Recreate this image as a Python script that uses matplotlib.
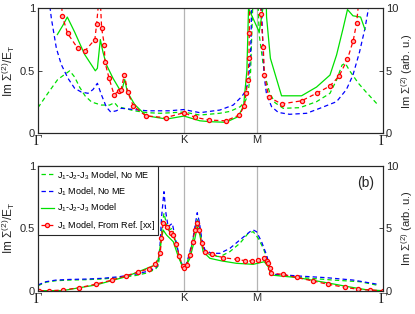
import matplotlib
matplotlib.use("Agg")
import matplotlib.pyplot as plt
import matplotlib.transforms as mtransforms
import numpy as np

plt.rcParams['font.family'] = ['Liberation Sans', 'DejaVu Sans']
plt.rcParams['mathtext.fontset'] = 'custom'
plt.rcParams['mathtext.rm'] = 'Liberation Sans'
plt.rcParams['mathtext.it'] = 'Liberation Sans'

# path coordinates: Gamma - K - M - Gamma (hexagonal BZ)
q_K = 4.0 / 3.0
q_M = 2.0
q_G2 = 2.0 + 2.0 / np.sqrt(3.0)
tick_pos = [0.0, q_K, q_M, q_G2]
tick_labels = ['\u0393', 'K', 'M', '\u0393']

# ---------------- top panel (a) ----------------
a_jjj_nome_q = [0, 0.09, 0.18, 0.29, 0.335, 0.38, 0.43, 0.49, 0.58, 0.655, 0.70, 0.73, 0.79, 0.88, 1.0, 1.12,
                1.333, 1.48, 1.66, 1.755, 1.85, 1.90, 1.923, 1.944, 1.955, 1.975, 2.0, 2.014, 2.023, 2.06, 2.09,
                2.12, 2.166, 2.242, 2.395, 2.547, 2.67, 2.73, 2.78, 2.81, 2.85, 2.93, 3.0, 3.11]
a_jjj_nome_v = [0.205, 0.32, 0.43, 0.50, 0.45, 0.37, 0.30, 0.25, 0.226, 0.226, 0.245, 0.213, 0.20, 0.18, 0.165, 0.16,
                0.17, 0.146, 0.16, 0.175, 0.213, 0.266, 0.333, 0.493, 0.80, 1.3, 1.3, 1.0, 0.786, 0.546, 0.413,
                0.32, 0.246, 0.20, 0.205, 0.253, 0.32, 0.426, 0.546, 0.56, 0.50, 0.40, 0.33, 0.226]

a_j1_nome_q = [0.09, 0.107, 0.122, 0.168, 0.213, 0.274, 0.335, 0.396, 0.457, 0.503, 0.543, 0.579, 0.625, 0.665,
               0.716, 0.762, 0.88, 1.0, 1.2, 1.333, 1.48, 1.664, 1.785, 1.862, 1.892, 1.923, 1.944, 1.95, 1.958,
               2.03, 2.045, 2.054, 2.066, 2.09, 2.136, 2.197, 2.30, 2.456, 2.577, 2.73, 2.82, 2.88, 2.94, 2.99,
               3.02, 3.04]
a_j1_nome_v = [1.3, 1.03, 0.92, 0.68, 0.55, 0.44, 0.36, 0.33, 0.32, 0.35, 0.40, 0.31, 0.21, 0.17,
               0.18, 0.20, 0.19, 0.18, 0.18, 0.19, 0.165, 0.186, 0.226, 0.293, 0.33, 0.413, 0.626, 0.866, 1.3,
               1.3, 1.0, 0.76, 0.47, 0.31, 0.213, 0.167, 0.152, 0.16, 0.20, 0.253, 0.35, 0.466, 0.65, 0.84,
               0.99, 1.3]

a_jjj_q = [0.177, 0.229, 0.268, 0.335, 0.427, 0.524, 0.543, 0.570, 0.594, 0.625, 0.686, 0.747, 0.762, 0.793,
           0.817, 0.884, 0.99, 1.176, 1.335, 1.48, 1.57, 1.718, 1.83, 1.88, 1.91, 1.925, 2.023, 2.065, 2.08,
           2.09, 2.125, 2.227, 2.41, 2.547, 2.67, 2.73, 2.79, 2.83, 2.88, 2.95, 2.99]
a_jjj_v = [0.79, 0.866, 0.93, 0.81, 0.63, 0.50, 0.52, 0.75, 0.65, 0.55, 0.44, 0.35, 0.33, 0.43,
           0.33, 0.23, 0.14, 0.114, 0.138, 0.10, 0.093, 0.088, 0.133, 0.22, 0.50, 1.0, 0.81, 1.05, 1.3,
           0.93, 0.60, 0.30, 0.30, 0.37, 0.466, 0.626, 0.84, 0.99, 0.94, 0.93, 0.83]

a_j1_ref_q = [0.205, 0.222, 0.27, 0.363, 0.43, 0.52, 0.536, 0.565, 0.582, 0.606, 0.612, 0.65, 0.695, 0.743,
              0.76, 0.79, 0.82, 0.871, 0.984, 1.167, 1.335, 1.435, 1.566, 1.718, 1.84, 1.888, 1.902, 1.92,
              1.929, 1.932, 1.94, 2.03, 2.038, 2.06, 2.07, 2.11, 2.227, 2.41, 2.547, 2.669, 2.754, 2.83,
              2.882, 2.913, 2.95]
a_j1_ref_v = [1.2, 0.94, 0.80, 0.68, 0.66, 0.75, 0.874, 1.15, 0.84, 0.71, 0.57, 0.44, 0.31, 0.34,
              0.35, 0.47, 0.33, 0.22, 0.14, 0.125, 0.165, 0.128, 0.106, 0.10, 0.146, 0.22, 0.32, 0.43,
              0.60, 0.80, 1.3, 1.3, 0.954, 0.69, 0.47, 0.29, 0.235, 0.26, 0.32, 0.378, 0.458, 0.594,
              0.74, 0.88, 1.2]

# ---------------- bottom panel (b) ----------------
b_j1_nome_q = [0, 0.073, 0.165, 0.287, 0.439, 0.591, 0.743, 0.896, 0.987, 1.072, 1.095, 1.115, 1.13, 1.152,
               1.17, 1.19, 1.228, 1.253, 1.283, 1.313, 1.335, 1.359, 1.389, 1.42, 1.44, 1.456, 1.475, 1.496,
               1.526, 1.587, 1.664, 1.755, 1.846, 1.938, 1.968, 1.998, 2.044, 2.09, 2.114, 2.126, 2.165,
               2.27, 2.395, 2.64, 2.882, 3.095]
b_j1_nome_v = [0.046, 0.072, 0.085, 0.09, 0.093, 0.099, 0.112, 0.133, 0.152, 0.179, 0.205, 0.352, 0.592, 0.792,
               0.619, 0.512, 0.539, 0.433, 0.312, 0.219, 0.187, 0.219, 0.312, 0.433, 0.539, 0.624, 0.552, 0.419,
               0.326, 0.299, 0.299, 0.339, 0.406, 0.472, 0.486, 0.472, 0.392, 0.286, 0.206, 0.139, 0.131,
               0.125, 0.117, 0.104, 0.085, 0.053]

b_jjj_nome_q = [0, 0.073, 0.165, 0.287, 0.439, 0.591, 0.743, 0.896, 0.987, 1.072, 1.10, 1.12, 1.135, 1.152,
                1.17, 1.19, 1.228, 1.253, 1.283, 1.313, 1.335, 1.359, 1.389, 1.42, 1.44, 1.456, 1.475, 1.496,
                1.526, 1.587, 1.664, 1.755, 1.846, 1.922, 1.968, 2.014, 2.06, 2.105, 2.126, 2.165, 2.27,
                2.395, 2.7, 2.944, 3.095]
b_jjj_nome_v = [0.04, 0.068, 0.08, 0.085, 0.088, 0.094, 0.105, 0.122, 0.14, 0.17, 0.20, 0.34, 0.52, 0.62,
                0.55, 0.48, 0.50, 0.41, 0.30, 0.21, 0.18, 0.21, 0.30, 0.42, 0.51, 0.57, 0.52, 0.40,
                0.31, 0.28, 0.272, 0.313, 0.379, 0.459, 0.472, 0.419, 0.339, 0.232, 0.139, 0.127, 0.12,
                0.106, 0.085, 0.072, 0.045]

b_jjj_q = [0, 0.226, 0.53, 0.805, 1.072, 1.10, 1.125, 1.145, 1.176, 1.237, 1.283, 1.335, 1.389, 1.435, 1.456,
           1.48, 1.51, 1.572, 1.68, 1.816, 1.968, 2.069, 2.105, 2.135, 2.379, 2.6, 2.85, 3.0, q_G2]
b_jjj_v = [0.0, 0.001, 0.046, 0.112, 0.206, 0.25, 0.40, 0.485, 0.445, 0.392, 0.272, 0.166, 0.259, 0.419, 0.512,
           0.445, 0.312, 0.259, 0.238, 0.219, 0.211, 0.232, 0.192, 0.125, 0.104, 0.07, 0.03, 0.008, 0.0]

b_j1_ref_q = [0.012, 0.104, 0.226, 0.378, 0.53, 0.677, 0.805, 0.91, 1.011, 1.072, 1.118, 1.128, 1.145, 1.176,
              1.213, 1.237, 1.261, 1.292, 1.322, 1.335, 1.359, 1.389, 1.413, 1.435, 1.456, 1.475, 1.496,
              1.526, 1.587, 1.694, 1.816, 1.892, 1.953, 2.014, 2.069, 2.09, 2.105, 2.12, 2.135, 2.24,
              2.364, 2.517, 2.654, 2.806, 2.928, 3.035, q_G2]
b_j1_ref_v = [0.0, 0.0, 0.005, 0.024, 0.053, 0.085, 0.12, 0.147, 0.175, 0.211, 0.30, 0.42, 0.544, 0.512,
              0.459, 0.445, 0.374, 0.277, 0.197, 0.179, 0.205, 0.285, 0.392, 0.485, 0.544, 0.485, 0.379,
              0.312, 0.293, 0.264, 0.251, 0.24, 0.237, 0.245, 0.259, 0.24, 0.219, 0.179, 0.139, 0.131,
              0.106, 0.077, 0.051, 0.027, 0.011, 0.005, 0.0]

labels = ['J$_1$-J$_2$-J$_3$ Model, No ME', 'J$_1$ Model, No ME',
          'J$_1$-J$_2$-J$_3$ Model', 'J$_1$ Model, From Ref. [xx]']

GREEN = '#00e000'
BLUE = '#0000ff'
RED = '#ff0000'
AXC = '#262626'

fig = plt.figure(figsize=(4.15, 3.14), dpi=100)
ax_top = fig.add_axes([38 / 415, 1 - 133.3 / 314, 345 / 415, 125 / 314])
ax_bot = fig.add_axes([38 / 415, 1 - 290.7 / 314, 345 / 415, 125 / 314])

def style(ax):
    ax.set_xlim(0, q_G2)
    ax.set_ylim(0, 1)
    for x in (q_K, q_M):
        ax.axvline(x, color='#b4b4b4', lw=0.9, zorder=0)
    # sans-serif tick labels for K, M; serif Gamma drawn as text at its tick position
    ax.set_xticks(tick_pos)
    ax.set_xticklabels([t if t != '\u0393' else '' for t in tick_labels])
    trans = mtransforms.blended_transform_factory(ax.transData, ax.transAxes)
    for p, t in zip(tick_pos, tick_labels):
        if t == '\u0393':
            ax.text(p, -0.015, t, transform=trans, ha='center', va='top',
                    fontsize=10.5, family=['Liberation Serif', 'DejaVu Serif'], color=AXC)
    ax.set_yticks([0, 0.5, 1])
    ax.set_yticklabels(['0', '0.5', '1'])
    ax.tick_params(direction='in', length=3, width=0.6, colors=AXC, labelsize=8, pad=2)
    ax.tick_params(axis='x', length=0, pad=1.5)
    for s in ax.spines.values():
        s.set_color(AXC)
        s.set_linewidth(0.8)
    ax.set_ylabel('Im \u03a3$^{(2)}$/E$_T$', fontsize=8.5, color=AXC, labelpad=2)
    tw = ax.twinx()
    tw.set_ylim(0, 10)
    tw.set_yticks([0, 5, 10])
    tw.tick_params(direction='in', length=3, width=0.6, colors=AXC, labelsize=8, pad=2)
    for s in tw.spines.values():
        s.set_color(AXC)
        s.set_linewidth(0.8)
    tw.set_ylabel('Im \u03a3$^{(2)}$ (arb. u.)', fontsize=8, color=AXC, labelpad=1)

def draw(ax, gq, gv, bq, bv, sq, sv, rq, rv):
    l1, = ax.plot(gq, gv, color=GREEN, lw=0.9, ls=(0, (3.5, 2.5)))
    l2, = ax.plot(bq, bv, color=BLUE, lw=0.9, ls=(0, (3.5, 2.5)))
    l3, = ax.plot(sq, sv, color=GREEN, lw=0.9, ls='-')
    l4, = ax.plot(rq, rv, color=RED, lw=0.9, ls=(0, (3.5, 2.5)), marker='o', ms=3.0,
                  mfc='#ffb0b0', mec=RED, mew=0.9)
    return [l1, l2, l3, l4]

style(ax_top)
draw(ax_top, a_jjj_nome_q, a_jjj_nome_v, a_j1_nome_q, a_j1_nome_v,
     a_jjj_q, a_jjj_v, a_j1_ref_q, a_j1_ref_v)

style(ax_bot)
handles = draw(ax_bot, b_jjj_nome_q, b_jjj_nome_v, b_j1_nome_q, b_j1_nome_v,
               b_jjj_q, b_jjj_v, b_j1_ref_q, b_j1_ref_v)

leg = ax_bot.legend(handles, labels, loc='upper left', bbox_to_anchor=(0.0, 1.0),
                    fontsize=6.5, handlelength=1.4, handletextpad=0.3, labelspacing=0.5,
                    borderpad=0.35, borderaxespad=0.0, fancybox=False, framealpha=1,
                    edgecolor=AXC)
leg.get_frame().set_linewidth(0.8)
leg.set_zorder(5)
ax_bot.text(0.951, 0.862, '(b)', transform=ax_bot.transAxes, ha='center', va='center',
            fontsize=10, color=AXC)

fig.savefig('out.png', dpi=100)
